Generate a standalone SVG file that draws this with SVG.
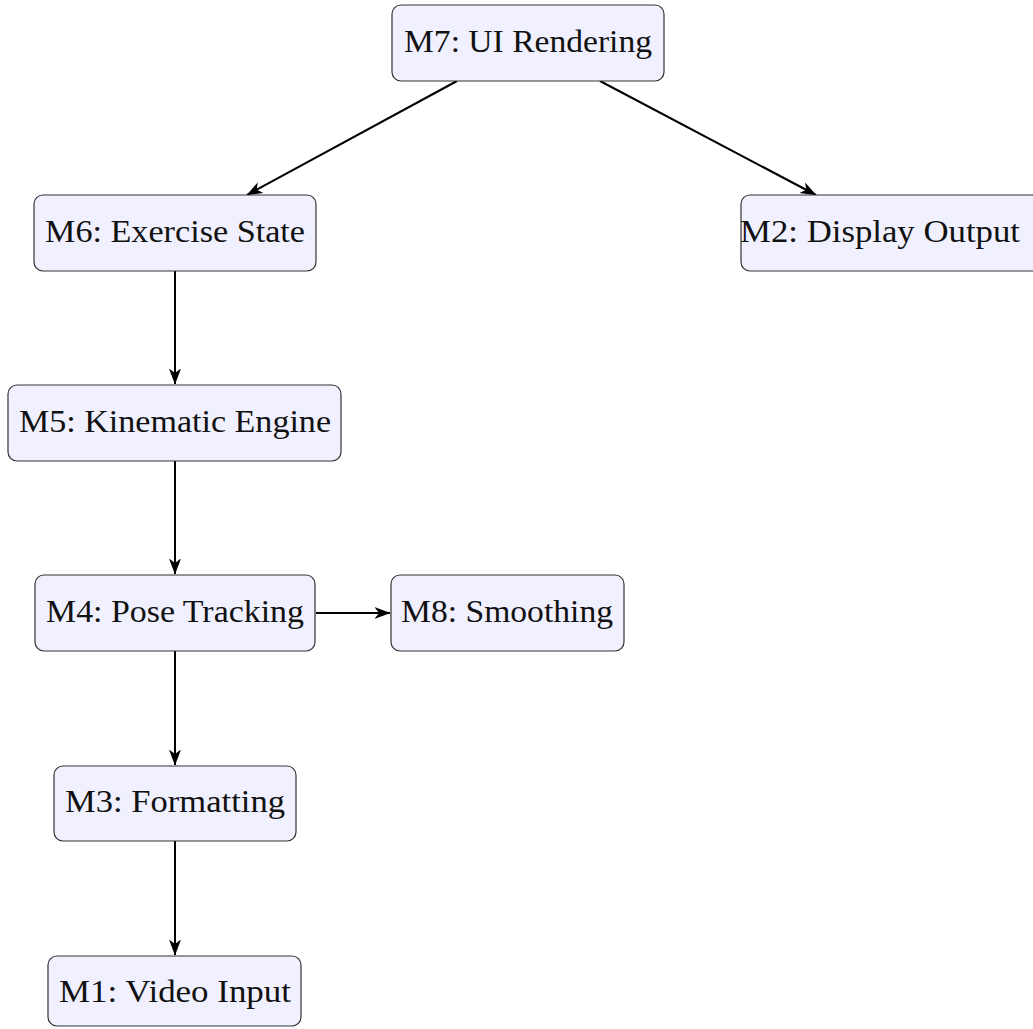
<svg xmlns="http://www.w3.org/2000/svg" width="1033" height="1029" viewBox="0 0 1033 1029">
<defs>
<style>
.box{fill:#F0F0FF;stroke:#333;stroke-width:1.2}
.lbl{font-family:"Liberation Serif","Times New Roman",serif;font-size:31px;fill:#111;text-anchor:middle}
.edge{stroke:#000;stroke-width:2;fill:none;marker-end:url(#arr)}
</style>
<marker id="arr" viewBox="0 0 16 13" refX="15.5" refY="6.5" markerWidth="16" markerHeight="13" markerUnits="userSpaceOnUse" orient="auto">
<path d="M0,0.5 L16,6.5 L0,12.5 L4.5,6.5 Z" fill="#000"/>
</marker>
</defs>
<rect width="1033" height="1029" fill="#fff"/>
<g id="edges">
<line class="edge" x1="457" y1="81" x2="247" y2="195"/>
<line class="edge" x1="600" y1="81" x2="816" y2="195"/>
<line class="edge" x1="175" y1="271" x2="175" y2="384"/>
<line class="edge" x1="175" y1="461" x2="175" y2="574"/>
<line class="edge" x1="316" y1="613" x2="390" y2="613"/>
<line class="edge" x1="175" y1="651" x2="175" y2="765"/>
<line class="edge" x1="175" y1="841" x2="175" y2="955"/>
</g>
<g id="M7"><rect class="box" x="392" y="5" width="272" height="76" rx="9"/><text class="lbl" x="528" y="52" textLength="248" lengthAdjust="spacingAndGlyphs">M7: UI Rendering</text></g>
<g id="M6"><rect class="box" x="34" y="195" width="282" height="76" rx="9"/><text class="lbl" x="175" y="242" textLength="260" lengthAdjust="spacingAndGlyphs">M6: Exercise State</text></g>
<g id="M2"><rect class="box" x="741" y="195" width="300" height="76" rx="9"/><text class="lbl" x="880" y="242" textLength="280" lengthAdjust="spacingAndGlyphs">M2: Display Output</text></g>
<g id="M5"><rect class="box" x="8" y="385" width="333" height="76" rx="9"/><text class="lbl" x="175" y="432" textLength="312" lengthAdjust="spacingAndGlyphs">M5: Kinematic Engine</text></g>
<g id="M4"><rect class="box" x="35" y="575" width="280" height="76" rx="9"/><text class="lbl" x="175" y="622" textLength="258" lengthAdjust="spacingAndGlyphs">M4: Pose Tracking</text></g>
<g id="M8"><rect class="box" x="391" y="575" width="233" height="76" rx="9"/><text class="lbl" x="507" y="622" textLength="212" lengthAdjust="spacingAndGlyphs">M8: Smoothing</text></g>
<g id="M3"><rect class="box" x="54" y="766" width="242" height="75" rx="9"/><text class="lbl" x="175" y="812" textLength="220" lengthAdjust="spacingAndGlyphs">M3: Formatting</text></g>
<g id="M1"><rect class="box" x="48" y="956" width="253" height="70" rx="9"/><text class="lbl" x="175" y="1002" textLength="232" lengthAdjust="spacingAndGlyphs">M1: Video Input</text></g>
</svg>
